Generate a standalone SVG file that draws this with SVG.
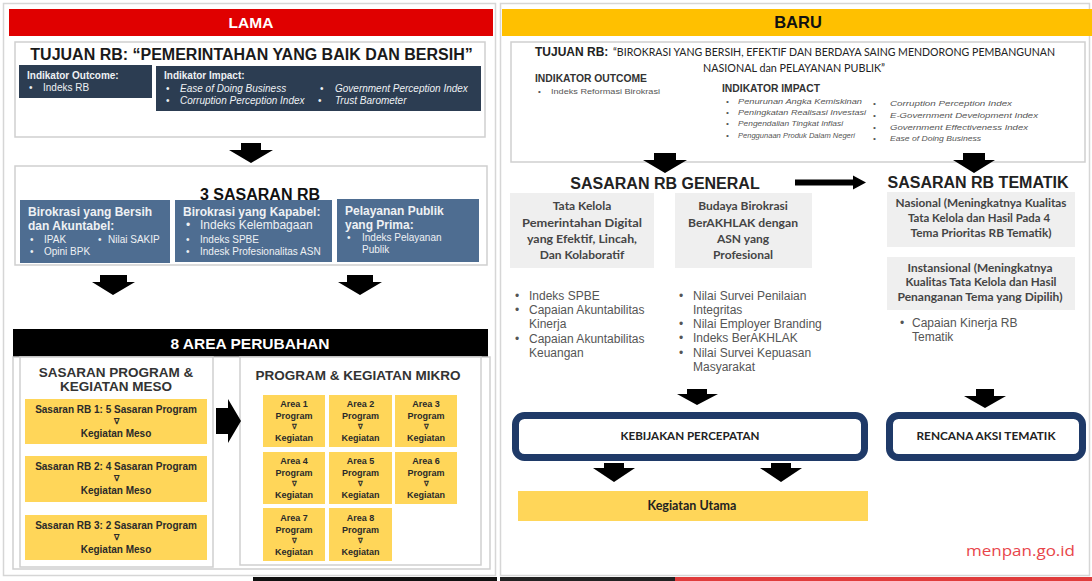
<svg xmlns="http://www.w3.org/2000/svg" width="1092" height="581" viewBox="0 0 1092 581">
<style>
.t{font-family:"Liberation Sans",Arial,sans-serif}
.c{font-family:Lato,"Liberation Sans",sans-serif}
.b{font-weight:bold}
.i{font-style:italic}
.m{text-anchor:middle}
.pan{fill:#fff;stroke:#d6d6d6;stroke-width:1.5}
.box{fill:#fff;stroke:#cfcfcf;stroke-width:1.5}
.navy{fill:#2c3d52}
.steel{fill:#4e6d91}
.yel{fill:#ffd659}
.gry{fill:#efefef}
.blk{fill:#000}
.rb{fill:#fff;stroke:#1f3a68;stroke-width:7}
.wt{fill:#eef1f4}
.dk{fill:#2a2a2a}
.g4{fill:#454545}
.g5{fill:#555}
</style>
<rect width="1092" height="581" fill="#fff"/>
<rect class="pan" x="3.5" y="3.5" width="492" height="572"/>
<rect class="pan" x="500.5" y="3.5" width="589" height="572"/>

<g id="header-lama">
<rect x="9" y="9" width="484" height="27" fill="#e00000"/>
<text class="t b m" x="251" y="28" font-size="15.5" fill="#fff">LAMA</text>
</g>

<g id="tujuan-lama">
<rect class="box" x="15" y="42" width="470" height="95"/>
<text class="t b m" x="251.5" y="60" font-size="16" fill="#1a1a1a">TUJUAN RB: “PEMERINTAHAN YANG BAIK DAN BERSIH”</text>
</g>
<g id="indikator-outcome-lama">
<rect class="navy" x="19" y="65" width="133" height="33"/>
<text class="t b wt" x="27" y="79" font-size="10">Indikator Outcome:</text>
<text class="t wt" x="29" y="91" font-size="10">•</text>
<text class="t wt" x="43" y="91" font-size="10">Indeks RB</text>
</g>
<g id="indikator-impact-lama">
<rect class="navy" x="156" y="66" width="325" height="45"/>
<text class="t b wt" x="164" y="79" font-size="10">Indikator Impact:</text>
<g class="t wt" font-size="10">
<text x="166" y="92">•</text><text class="i" x="180" y="92">Ease of Doing Business</text>
<text x="320" y="92">•</text><text class="i" x="335" y="92">Government Perception Index</text>
<text x="166" y="104">•</text><text class="i" x="180" y="104">Corruption Perception Index</text>
<text x="318" y="104">•</text><text class="i" x="335" y="104">Trust Barometer</text>
</g>
</g>

<g id="sasaran-rb-lama">
<rect class="box" x="15" y="166" width="472" height="99"/>
<text class="t b m" x="260" y="200" font-size="16" fill="#111">3 SASARAN RB</text>
</g>
<g id="sasaran-bersih">
<rect class="steel" x="20" y="200" width="150" height="63"/>
<g class="t wt">
<text class="b" x="28" y="216" font-size="12">Birokrasi yang Bersih</text>
<text class="b" x="28" y="230" font-size="12">dan Akuntabel:</text>
<text x="30" y="243" font-size="10">•</text><text x="44" y="243" font-size="10">IPAK</text>
<text x="98" y="243" font-size="10">•</text><text x="108" y="243" font-size="10">Nilai SAKIP</text>
<text x="30" y="255" font-size="10">•</text><text x="44" y="255" font-size="10">Opini BPK</text>
</g>
</g>
<g id="sasaran-kapabel">
<rect class="steel" x="175" y="200" width="157" height="62"/>
<g class="t wt">
<text class="b" x="183" y="216" font-size="12">Birokrasi yang Kapabel:</text>
<text x="186" y="229" font-size="12">•</text><text x="200" y="229" font-size="12">Indeks Kelembagaan</text>
<text x="186" y="243" font-size="10">•</text><text x="200" y="243" font-size="10">Indeks SPBE</text>
<text x="186" y="255" font-size="10">•</text><text x="200" y="255" font-size="10">Indesk Profesionalitas ASN</text>
</g>
</g>
<g id="sasaran-prima">
<rect class="steel" x="337" y="199" width="142" height="63"/>
<g class="t wt">
<text class="b" x="345" y="215" font-size="12">Pelayanan Publik</text>
<text class="b" x="345" y="229" font-size="12">yang Prima:</text>
<text x="347" y="241" font-size="10">•</text><text x="362" y="241" font-size="10">Indeks Pelayanan</text>
<text x="362" y="253" font-size="10">Publik</text>
</g>
</g>

<g id="area-perubahan">
<rect class="blk" x="13" y="329" width="475" height="28"/>
<text class="t b m" x="250" y="349" font-size="15.5" fill="#fff">8 AREA PERUBAHAN</text>
<rect class="box" x="13" y="357" width="477" height="212"/>
</g>

<g id="meso">
<rect class="box" x="20" y="357" width="193" height="210"/>
<text class="t b m" x="116" y="377" font-size="13.5" fill="#333">SASARAN  PROGRAM &amp;</text>
<text class="t b m" x="116" y="391" font-size="13.5" fill="#333">KEGIATAN MESO</text>
</g>
<g id="meso-1">
<rect class="yel" x="25" y="399" width="182" height="45"/>
<g class="t b m dk"><text x="116" y="413" font-size="10">Sasaran RB 1: 5 Sasaran Program</text><text x="116" y="424" font-size="8">∇</text><text x="116" y="437" font-size="10">Kegiatan Meso</text></g>
</g>
<g id="meso-2">
<rect class="yel" x="25" y="456" width="182" height="46"/>
<g class="t b m dk"><text x="116" y="470" font-size="10">Sasaran RB 2: 4 Sasaran Program</text><text x="116" y="481" font-size="8">∇</text><text x="116" y="494" font-size="10">Kegiatan Meso</text></g>
</g>
<g id="meso-3">
<rect class="yel" x="25" y="515" width="182" height="45"/>
<g class="t b m dk"><text x="116" y="529" font-size="10">Sasaran RB 3: 2 Sasaran Program</text><text x="116" y="540" font-size="8">∇</text><text x="116" y="553" font-size="10">Kegiatan Meso</text></g>
</g>

<g id="mikro">
<rect class="box" x="240" y="357" width="241" height="208"/>
<text class="t b m" x="358" y="380" font-size="13.5" fill="#333">PROGRAM &amp; KEGIATAN MIKRO</text>
</g>
<g class="t b m dk" font-size="9">
<g id="area-1"><rect class="yel" x="263" y="395" width="62" height="52"/><text x="294" y="407">Area 1</text><text x="294" y="419">Program</text><text x="294" y="429" font-size="7">∇</text><text x="294" y="441">Kegiatan</text></g>
<g id="area-2"><rect class="yel" x="329" y="395" width="63" height="52"/><text x="360.5" y="407">Area 2</text><text x="360.5" y="419">Program</text><text x="360.5" y="429" font-size="7">∇</text><text x="360.5" y="441">Kegiatan</text></g>
<g id="area-3"><rect class="yel" x="395" y="395" width="62" height="52"/><text x="426" y="407">Area 3</text><text x="426" y="419">Program</text><text x="426" y="429" font-size="7">∇</text><text x="426" y="441">Kegiatan</text></g>
<g id="area-4"><rect class="yel" x="263" y="452" width="62" height="52"/><text x="294" y="464">Area 4</text><text x="294" y="476">Program</text><text x="294" y="486" font-size="7">∇</text><text x="294" y="498">Kegiatan</text></g>
<g id="area-5"><rect class="yel" x="329" y="452" width="63" height="52"/><text x="360.5" y="464">Area 5</text><text x="360.5" y="476">Program</text><text x="360.5" y="486" font-size="7">∇</text><text x="360.5" y="498">Kegiatan</text></g>
<g id="area-6"><rect class="yel" x="395" y="452" width="62" height="52"/><text x="426" y="464">Area 6</text><text x="426" y="476">Program</text><text x="426" y="486" font-size="7">∇</text><text x="426" y="498">Kegiatan</text></g>
<g id="area-7"><rect class="yel" x="263" y="508" width="62" height="53"/><text x="294" y="521">Area 7</text><text x="294" y="533">Program</text><text x="294" y="543" font-size="7">∇</text><text x="294" y="555">Kegiatan</text></g>
<g id="area-8"><rect class="yel" x="329" y="508" width="63" height="53"/><text x="360.5" y="521">Area 8</text><text x="360.5" y="533">Program</text><text x="360.5" y="543" font-size="7">∇</text><text x="360.5" y="555">Kegiatan</text></g>
</g>

<g id="header-baru">
<rect x="502" y="9" width="590" height="27" fill="#ffc000"/>
<text class="t b m" x="798" y="28" font-size="16.5" fill="#111">BARU</text>
</g>

<g id="tujuan-baru">
<rect class="box" x="511" y="42" width="574" height="120"/>
<text class="t b" x="535" y="56" font-size="12" fill="#222">TUJUAN RB:</text>
<text class="c" x="613" y="56" font-size="10.5" fill="#222" textLength="442" lengthAdjust="spacingAndGlyphs">“BIROKRASI YANG BERSIH, EFEKTIF DAN BERDAYA SAING MENDORONG PEMBANGUNAN</text>
<text class="c" x="703" y="72" font-size="10.5" fill="#222" textLength="182" lengthAdjust="spacingAndGlyphs">NASIONAL dan PELAYANAN PUBLIK”</text>
<text class="t b" x="535" y="82" font-size="10" fill="#333" textLength="112" lengthAdjust="spacingAndGlyphs">INDIKATOR OUTCOME</text>
<text class="t g5" x="538" y="94" font-size="8">•</text>
<text class="t g5" x="551" y="94" font-size="8" textLength="109" lengthAdjust="spacingAndGlyphs">Indeks Reformasi Birokrasi</text>
<text class="t b" x="722" y="92" font-size="10" fill="#333" textLength="98" lengthAdjust="spacingAndGlyphs">INDIKATOR IMPACT</text>
<g class="t i g5" font-size="8">
<text x="726" y="104">•</text><text x="738" y="104" textLength="124" lengthAdjust="spacingAndGlyphs">Penurunan Angka Kemiskinan</text>
<text x="726" y="115">•</text><text x="738" y="115" textLength="128" lengthAdjust="spacingAndGlyphs">Peningkatan Realisasi Investasi</text>
<text x="726" y="126">•</text><text x="738" y="126" textLength="105" lengthAdjust="spacingAndGlyphs">Pengendalian Tingkat Inflasi</text>
<text x="726" y="138">•</text><text x="738" y="138" textLength="117" lengthAdjust="spacingAndGlyphs">Penggunaan Produk Dalam Negeri</text>
<text x="873" y="106">•</text><text x="890" y="106" textLength="122" lengthAdjust="spacingAndGlyphs">Corruption Perception Index</text>
<text x="873" y="118">•</text><text x="890" y="118" textLength="148" lengthAdjust="spacingAndGlyphs">E-Government Development Index</text>
<text x="873" y="130">•</text><text x="890" y="130" textLength="138" lengthAdjust="spacingAndGlyphs">Government Effectiveness Index</text>
<text x="873" y="141">•</text><text x="890" y="141" textLength="91" lengthAdjust="spacingAndGlyphs">Ease of Doing Business</text>
</g>
</g>

<g id="sasaran-general">
<text class="t b m" x="665" y="189" font-size="16" fill="#222">SASARAN RB GENERAL</text>
</g>
<g id="general-digital">
<rect class="gry" x="510" y="193" width="144" height="75"/>
<g class="c b m g4" font-size="12">
<text x="582" y="210">Tata Kelola</text>
<text x="582" y="226.5" textLength="120" lengthAdjust="spacingAndGlyphs">Pemerintahan Digital</text>
<text x="582" y="243" textLength="110" lengthAdjust="spacingAndGlyphs">yang Efektif, Lincah,</text>
<text x="582" y="259">Dan Kolaboratif</text>
</g>
<g class="t g5" font-size="12">
<text x="515" y="300">•</text><text x="529" y="300">Indeks SPBE</text>
<text x="515" y="314">•</text><text x="529" y="314">Capaian Akuntabilitas</text>
<text x="529" y="328">Kinerja</text>
<text x="515" y="343">•</text><text x="529" y="343">Capaian Akuntabilitas</text>
<text x="529" y="357">Keuangan</text>
</g>
</g>
<g id="general-akhlak">
<rect class="gry" x="675" y="193" width="137" height="75"/>
<g class="c b m g4" font-size="12">
<text x="743" y="210">Budaya Birokrasi</text>
<text x="743" y="226.5" textLength="110" lengthAdjust="spacingAndGlyphs">BerAKHLAK dengan</text>
<text x="743" y="243">ASN yang</text>
<text x="743" y="259">Profesional</text>
</g>
<g class="t g5" font-size="12">
<text x="679" y="300">•</text><text x="693" y="300">Nilai Survei Penilaian</text>
<text x="693" y="314">Integritas</text>
<text x="679" y="328">•</text><text x="693" y="328">Nilai Employer Branding</text>
<text x="679" y="342">•</text><text x="693" y="342">Indeks BerAKHLAK</text>
<text x="679" y="357">•</text><text x="693" y="357">Nilai Survei Kepuasan</text>
<text x="693" y="371">Masyarakat</text>
</g>
</g>

<g id="sasaran-tematik">
<text class="t b m" x="978" y="188" font-size="16" fill="#222">SASARAN RB TEMATIK</text>
</g>
<g id="tematik-nasional">
<rect class="gry" x="887" y="192" width="188" height="55"/>
<g class="c b m g4" font-size="10.5">
<text x="981" y="207" textLength="171" lengthAdjust="spacingAndGlyphs">Nasional (Meningkatnya Kualitas</text>
<text x="979" y="222" textLength="142" lengthAdjust="spacingAndGlyphs">Tata Kelola dan Hasil Pada 4</text>
<text x="981" y="237" textLength="141" lengthAdjust="spacingAndGlyphs">Tema Prioritas  RB Tematik)</text>
</g>
</g>
<g id="tematik-instansional">
<rect class="gry" x="887" y="257" width="188" height="53"/>
<g class="c b m g4" font-size="10.5">
<text x="980" y="272" textLength="145" lengthAdjust="spacingAndGlyphs">Instansional (Meningkatnya</text>
<text x="981" y="286" textLength="151" lengthAdjust="spacingAndGlyphs">Kualitas Tata Kelola dan Hasil</text>
<text x="980" y="301" textLength="165" lengthAdjust="spacingAndGlyphs">Penanganan Tema yang Dipilih)</text>
</g>
<g class="t g5" font-size="12">
<text x="900" y="327">•</text><text x="912" y="327">Capaian Kinerja RB</text>
<text x="912" y="341">Tematik</text>
</g>
</g>

<g id="kebijakan-percepatan">
<rect class="rb" x="515.5" y="415.5" width="349" height="42" rx="9"/>
<text class="c b m" x="690" y="440" font-size="10.5" fill="#222" textLength="139" lengthAdjust="spacingAndGlyphs">KEBIJAKAN PERCEPATAN</text>
</g>
<g id="rencana-aksi-tematik">
<rect class="rb" x="889.5" y="415.5" width="193" height="42" rx="9"/>
<text class="c b m" x="986" y="440" font-size="10.5" fill="#222" textLength="139" lengthAdjust="spacingAndGlyphs">RENCANA AKSI TEMATIK</text>
</g>
<g id="kegiatan-utama">
<rect class="yel" x="518" y="491" width="350" height="30"/>
<text class="c b m" x="692" y="510" font-size="12.5" fill="#222">Kegiatan Utama</text>
</g>

<g id="connectors" class="blk">
<polygon points="241,143 261,143 261,150 273,150 251,163 229,150 241,150"/>
<polygon points="100,275 127,275 127,282 135,282 113,295 92,282 100,282"/>
<polygon points="347,275 373,275 373,282 382,282 360,295 338,282 347,282"/>
<polygon points="216,408 228,408 228,399 241,421 228,443 228,434 216,434"/>
<polygon points="654,153 676,153 676,160 687,160 665,173 643,160 654,160"/>
<polygon points="963,153 985,153 985,160 995,160 974,173 953,160 963,160"/>
<polygon points="795,179.5 853,179.5 853,175.5 866,182.5 853,189.5 853,185.5 795,185.5"/>
<polygon points="687,389 707,389 707,394 718,394 697,405 677,394 687,394"/>
<polygon points="976,389 994,389 994,396 1006,396 985,408 964,396 976,396"/>
<polygon points="604,463 624,463 624,468 635,468 614,482 593,468 604,468"/>
<polygon points="771,463 791,463 791,468 802,468 781,482 760,468 771,468"/>
</g>

<text x="1075" y="556" font-family="'Open Sans','Liberation Sans',sans-serif" font-size="15" fill="#e8454a" text-anchor="end" textLength="109" lengthAdjust="spacingAndGlyphs">menpan.go.id</text>
<rect x="253" y="577" width="244" height="4" fill="#111"/>
<rect x="500" y="577" width="175" height="4" fill="#222"/>
<rect x="675" y="577" width="417" height="4" fill="#e03c3c"/>
</svg>
